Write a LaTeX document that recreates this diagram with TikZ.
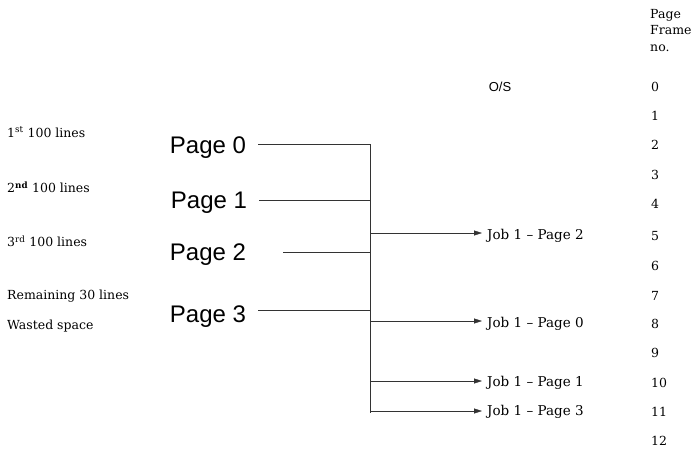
\documentclass[tikz,border=0pt]{standalone}
\usepackage{fontspec}
\setmainfont{DejaVu Serif}
\newfontfamily\pagefont{Liberation Sans}
\usetikzlibrary{positioning, arrows.meta}

\begin{document}
\begin{tikzpicture}[
    x=1pt, y=-1pt,
    lbl/.style={anchor=west, inner sep=0pt, font=\fontsize{12.5}{14}\selectfont},
    pg/.style={inner sep=0pt, font=\pagefont\fontsize{24}{26}\selectfont},
    job/.style={anchor=west, inner sep=0pt, font=\fontsize{13.5}{15}\selectfont},
    num/.style={anchor=west, inner sep=0pt, font=\fontsize{12.5}{14}\selectfont},
    ln/.style={thin, black!80},
    arr/.style={-{Triangle[length=8pt, width=5pt]}, thin, black!80},
]
\useasboundingbox (0,0) rectangle (696,450);

% Left: parts of the job
\node[lbl] (l0) at (7,132) {1\textsuperscript{st} 100 lines};
\node[lbl] (l1) at (7,187) {2\textsuperscript{\bfseries nd} 100 lines};
\node[lbl] (l2) at (7,241) {3\textsuperscript{rd} 100 lines};
\node[lbl] (l3) at (7,296) {Remaining 30 lines};
\node[lbl] (waste) at (7,326) {Wasted space};

% Pages
\node[pg] (p0) at (208,148) {Page 0};
\node[pg] (p1) at (209,203) {Page 1};
\node[pg] (p2) at (208,255) {Page 2};
\node[pg] (p3) at (208,317) {Page 3};

% Bus
\coordinate (bus-top) at (370,144);
\coordinate (bus-bot) at (370,413);
\draw[ln] (bus-top) -- (bus-bot);

\draw[ln, shorten <=12pt] ([yshift=4pt]p0.east) -- ([yshift=4pt]p0.east -| bus-top);
\draw[ln, shorten <=12pt] ([yshift=3pt]p1.east) -- ([yshift=3pt]p1.east -| bus-top);
\draw[ln, shorten <=37pt] ([yshift=3pt]p2.east) -- ([yshift=3pt]p2.east -| bus-top);
\draw[ln, shorten <=12pt] ([yshift=7pt]p3.east) -- ([yshift=7pt]p3.east -| bus-top);

% Right: frames
\node[inner sep=0pt, font=\pagefont\fontsize{13}{15}\selectfont] (os) at (500,87) {O/S};
\node[job] (j2) at (487,236) {Job 1 -- Page 2};
\node[job] (j0) at (487,324) {Job 1 -- Page 0};
\node[job] (j1) at (487,383) {Job 1 -- Page 1};
\node[job] (j3) at (487,412) {Job 1 -- Page 3};

\draw[arr] ([yshift=3pt]j2.west -| bus-top) -- ([shift={(-5pt,3pt)}]j2.west);
\draw[arr] ([yshift=3pt]j0.west -| bus-top) -- ([shift={(-5pt,3pt)}]j0.west);
\draw[arr] ([yshift=2pt]j1.west -| bus-top) -- ([shift={(-5pt,2pt)}]j1.west);
\draw[arr] ([yshift=1pt]j3.west -| bus-top) -- ([shift={(-5pt,1pt)}]j3.west);

% Frame numbers
\node[num, align=left, anchor=north west, font=\fontsize{12.5}{16.5}\selectfont] (hdr) at (650,9) {Page\\Frame\\no.};
\foreach \i/\y in {0/87,1/116,2/145,3/175,4/204,5/236,6/266,7/296,8/324,9/353,10/383,11/412,12/441}
  \node[num] (f\i) at (651,\y) {\i};

\end{tikzpicture}
\end{document}
